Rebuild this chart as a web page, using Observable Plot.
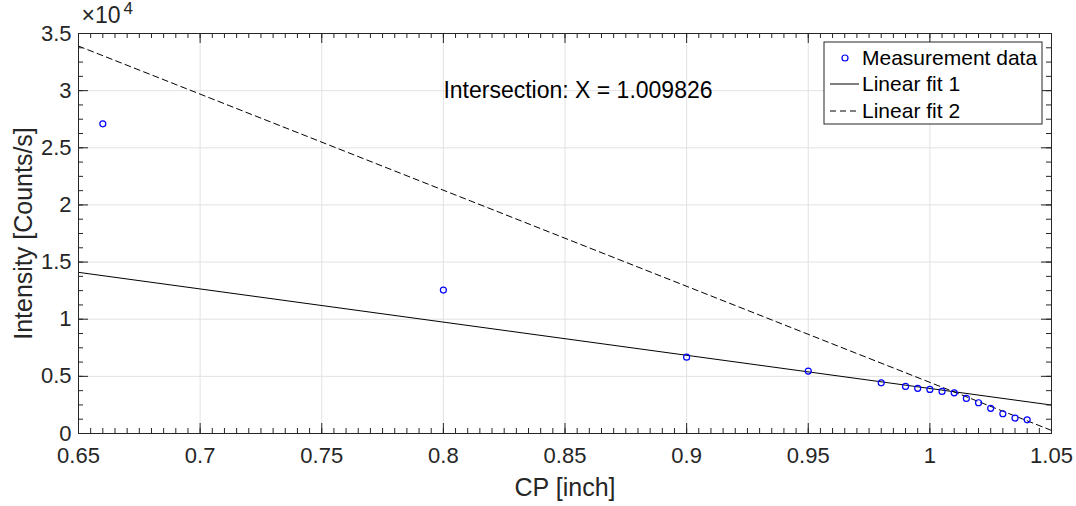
<!DOCTYPE html>
<html>
<head>
<meta charset="utf-8">
<script src="https://cdn.jsdelivr.net/npm/d3@7"></script>
<script src="https://cdn.jsdelivr.net/npm/@observablehq/plot@0.6"></script>
<style>
  html, body { margin: 0; padding: 0; background: #fff; }
  #chart svg { display: block; font-family: "Liberation Sans", Arial, sans-serif; }
</style>
</head>
<body>
<div id="chart"></div>
<script>
// ---- data ----
const cp = [0.66, 0.80, 0.90, 0.95, 0.98, 0.99, 0.995, 1.000, 1.005, 1.010, 1.015, 1.020, 1.025, 1.030, 1.035, 1.040];
const intensity = [27100, 12550, 6680, 5460, 4430, 4120, 3950, 3860, 3680, 3560, 3070, 2690, 2200, 1730, 1350, 1200];

const fitX = [0.65, 1.05];
const fit1Y = [14100, 2490];
const fit2Y = [33900, 270];

const xTicks = [0.65, 0.70, 0.75, 0.80, 0.85, 0.90, 0.95, 1.00, 1.05];
const xTickLabels = ["0.65", "0.7", "0.75", "0.8", "0.85", "0.9", "0.95", "1", "1.05"];
const yTicks = [0, 5000, 10000, 15000, 20000, 25000, 30000, 35000];
const yTickLabels = ["0", "0.5", "1", "1.5", "2", "2.5", "3", "3.5"];

const legendLabels = ["Measurement data", "Linear fit 1", "Linear fit 2"];
const annotation = "Intersection: X = 1.009826";
const annotationX = 0.8, annotationY = 30000;
const xLabel = "CP [inch]";
const yLabel = "Intensity [Counts/s]";

// ---- layout ----
const W = 1076, H = 506;
const mL = 78, mR = 25, mT = 33, mB = 73;
const plotH = H - mT - mB;
const plotW = W - mL - mR;
const ink = "#262626";

const xMinor = d3.range(0, 81).map(i => +(0.65 + i * 0.005).toFixed(4));
const yMinor = d3.range(0, 29).map(i => i * 1250);

const pts = cp.map((x, i) => ({x, y: intensity[i]}));
const fit1 = fitX.map((x, i) => ({x, y: fit1Y[i]}));
const fit2 = fitX.map((x, i) => ({x, y: fit2Y[i]}));

const chart = Plot.plot({
  width: W, height: H,
  marginLeft: mL, marginRight: mR, marginTop: mT, marginBottom: mB,
  style: {fontFamily: "'Liberation Sans', Arial, sans-serif", color: ink, background: "#fff"},
  x: {domain: [0.65, 1.05]},
  y: {domain: [0, 35000]},
  marks: [
    // grid
    Plot.ruleX(xTicks.slice(1, -1), {stroke: "#e2e2e2", strokeWidth: 1}),
    Plot.ruleY(yTicks.slice(1, -1), {stroke: "#e2e2e2", strokeWidth: 1}),
    // fit lines
    Plot.line(fit1, {x: "x", y: "y", stroke: "#000", strokeWidth: 1, clip: true}),
    Plot.line(fit2, {x: "x", y: "y", stroke: "#000", strokeWidth: 1, strokeDasharray: "6,4", clip: true}),
    // data
    Plot.dot(pts, {x: "x", y: "y", r: 3, stroke: "#0000ff", strokeWidth: 1.2, fill: "none"}),
    // inward ticks: bottom / top
    Plot.ruleX(xMinor, {insetTop: plotH - 5, stroke: ink}),
    Plot.ruleX(xMinor, {insetBottom: plotH - 5, stroke: ink}),
    Plot.ruleX(xTicks, {insetTop: plotH - 10, stroke: ink}),
    Plot.ruleX(xTicks, {insetBottom: plotH - 10, stroke: ink}),
    // inward ticks: left / right
    Plot.ruleY(yMinor, {insetRight: plotW - 5, stroke: ink}),
    Plot.ruleY(yMinor, {insetLeft: plotW - 5, stroke: ink}),
    Plot.ruleY(yTicks, {insetRight: plotW - 10, stroke: ink}),
    Plot.ruleY(yTicks, {insetLeft: plotW - 10, stroke: ink}),
    // frame
    Plot.frame({stroke: ink, strokeWidth: 1}),
    // tick labels
    Plot.axisX({ticks: xTicks, tickSize: 0, tickPadding: 14, fontSize: 22, fill: ink,
      tickFormat: d => xTickLabels[xTicks.findIndex(t => Math.abs(t - d) < 1e-9)], label: null}),
    Plot.axisY({ticks: yTicks, tickSize: 0, tickPadding: 7, fontSize: 22, fill: ink,
      tickFormat: d => yTickLabels[yTicks.indexOf(d)], label: null}),
    // exponent
    Plot.text(["×10"], {frameAnchor: "top-left", lineAnchor: "top", dx: 3, dy: -27, textAnchor: "start", fontSize: 23, fill: ink}),
    Plot.text(["4"], {frameAnchor: "top-left", lineAnchor: "top", dx: 45, dy: -32, textAnchor: "start", fontSize: 17, fill: ink}),
    // axis labels
    Plot.text([xLabel], {frameAnchor: "bottom", lineAnchor: "middle", textAnchor: "middle", dy: 54, fontSize: 25, fill: ink}),
    Plot.text([yLabel], {frameAnchor: "left", lineAnchor: "middle", textAnchor: "middle", dx: -55, rotate: -90, fontSize: 25, fill: ink}),
    // annotation
    Plot.text([annotation], {x: annotationX, y: annotationY, textAnchor: "start", fontSize: 23, fill: "#000"})
  ]
});

document.getElementById("chart").appendChild(chart);

// ---- legend (inside the axes, top-right) ----
const svg = d3.select(chart);
const frameRight = W - mR;
const lgW = 218, lgH = 82;
const lgX = frameRight - 9 - lgW, lgY = mT + 9;
const g = svg.append("g")
  .attr("font-family", "'Liberation Sans', Arial, sans-serif")
  .attr("font-size", 21)
  .attr("text-anchor", "start");
g.append("rect").attr("x", lgX).attr("y", lgY).attr("width", lgW).attr("height", lgH)
  .attr("fill", "#fff").attr("stroke", ink).attr("stroke-width", 1);
const rowY = [lgY + 16, lgY + 42, lgY + 69];
g.append("circle").attr("cx", lgX + 21).attr("cy", rowY[0]).attr("r", 3)
  .attr("fill", "none").attr("stroke", "#0000ff").attr("stroke-width", 1.2);
g.append("line").attr("x1", lgX + 6).attr("x2", lgX + 35).attr("y1", rowY[1]).attr("y2", rowY[1])
  .attr("stroke", "#000").attr("stroke-width", 1);
g.append("line").attr("x1", lgX + 6).attr("x2", lgX + 35).attr("y1", rowY[2]).attr("y2", rowY[2])
  .attr("stroke", "#000").attr("stroke-width", 1).attr("stroke-dasharray", "6,4");
legendLabels.forEach((t, i) => {
  g.append("text").attr("x", lgX + 38).attr("y", rowY[i]).attr("dy", "0.35em")
    .attr("text-anchor", "start").attr("fill", "#000").text(t);
});
</script>
</body>
</html>
